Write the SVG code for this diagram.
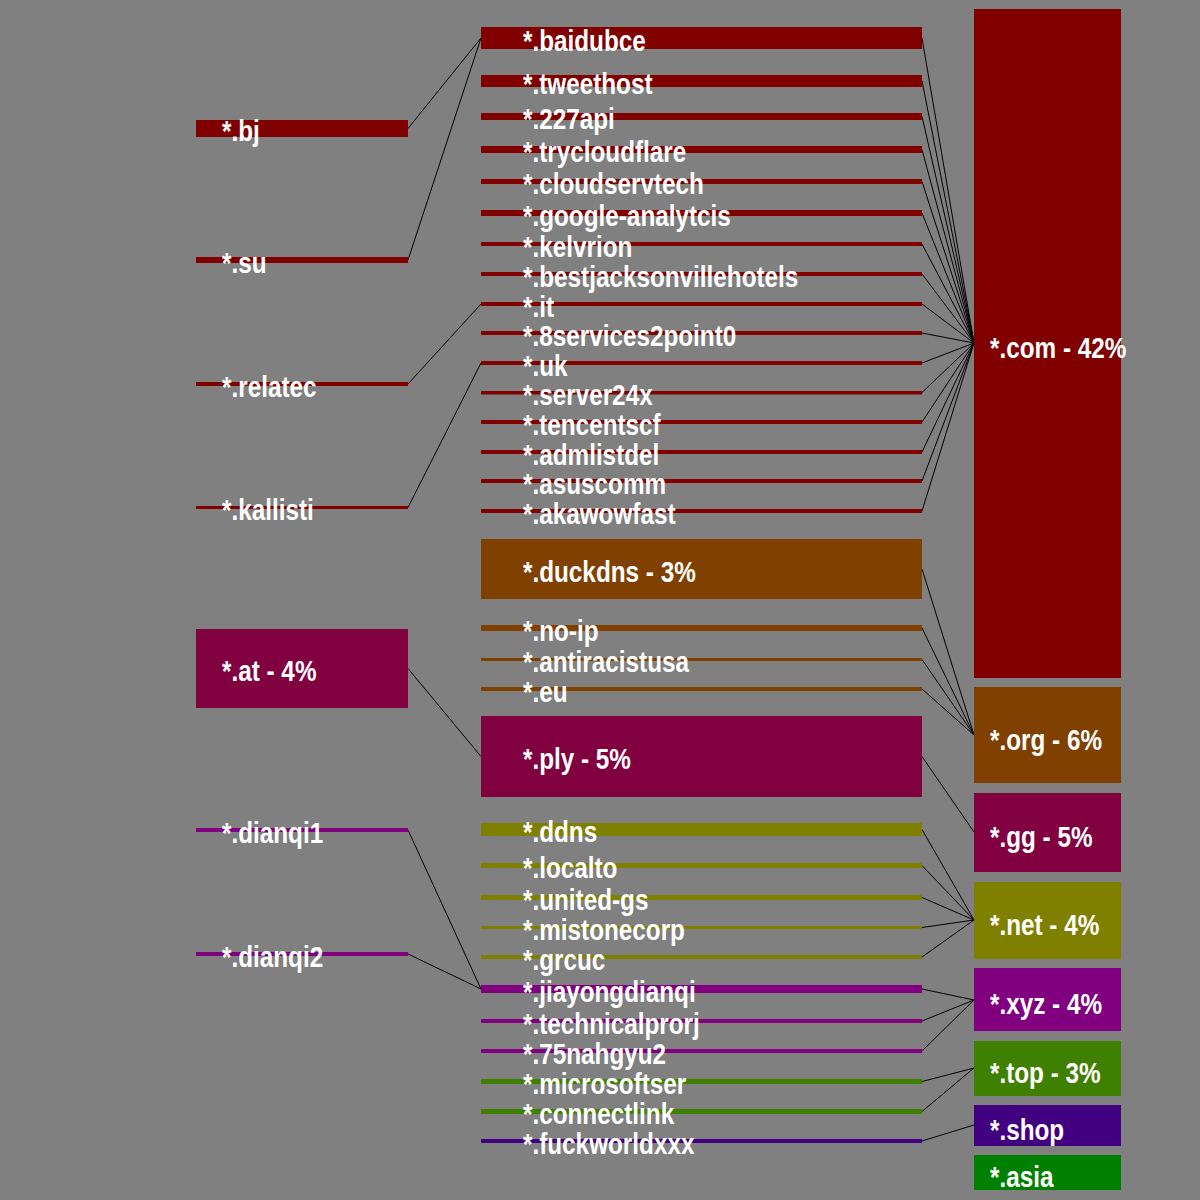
<svg xmlns="http://www.w3.org/2000/svg" width="1200" height="1200" viewBox="0 0 1200 1200">
<style>
text{font-family:"Liberation Sans",Arial,sans-serif;font-weight:bold;font-size:30px;fill:#ffffff;}
.c line{stroke:#000;stroke-width:1;fill:none;}
.r1{fill:#800000}.r2{fill:#804000}.r3{fill:#800040}.r4{fill:#808000}.r5{fill:#800080}.r6{fill:#408000}.r7{fill:#400080}.r8{fill:#008000}
</style>
<rect width="1200" height="1200" fill="#808080"/>
<g class="c" id="connectors">
<line x1="408" y1="128.5" x2="481" y2="38"/>
<line x1="408" y1="260" x2="481" y2="38"/>
<line x1="408" y1="384" x2="481" y2="304"/>
<line x1="408" y1="507.5" x2="481" y2="363"/>
<line x1="408" y1="668.5" x2="481" y2="756.5"/>
<line x1="408" y1="830" x2="481" y2="989"/>
<line x1="408" y1="954" x2="481" y2="989"/>
<line x1="922" y1="38" x2="974" y2="343"/>
<line x1="922" y1="81" x2="974" y2="343"/>
<line x1="922" y1="116.5" x2="974" y2="343"/>
<line x1="922" y1="149.5" x2="974" y2="343"/>
<line x1="922" y1="181.5" x2="974" y2="343"/>
<line x1="922" y1="213" x2="974" y2="343"/>
<line x1="922" y1="244" x2="974" y2="343"/>
<line x1="922" y1="274" x2="974" y2="343"/>
<line x1="922" y1="304" x2="974" y2="343"/>
<line x1="922" y1="333" x2="974" y2="343"/>
<line x1="922" y1="363" x2="974" y2="343"/>
<line x1="922" y1="392.5" x2="974" y2="343"/>
<line x1="922" y1="422" x2="974" y2="343"/>
<line x1="922" y1="452" x2="974" y2="343"/>
<line x1="922" y1="481" x2="974" y2="343"/>
<line x1="922" y1="511" x2="974" y2="343"/>
<line x1="922" y1="569" x2="974" y2="735"/>
<line x1="922" y1="628" x2="974" y2="735"/>
<line x1="922" y1="659.5" x2="974" y2="735"/>
<line x1="922" y1="689" x2="974" y2="735"/>
<line x1="922" y1="756.5" x2="974" y2="832"/>
<line x1="922" y1="829.5" x2="974" y2="920"/>
<line x1="922" y1="865.5" x2="974" y2="920"/>
<line x1="922" y1="897.5" x2="974" y2="920"/>
<line x1="922" y1="927.5" x2="974" y2="920"/>
<line x1="922" y1="957" x2="974" y2="920"/>
<line x1="922" y1="989" x2="974" y2="1000"/>
<line x1="922" y1="1021" x2="974" y2="1000"/>
<line x1="922" y1="1051" x2="974" y2="1000"/>
<line x1="922" y1="1081.5" x2="974" y2="1068"/>
<line x1="922" y1="1111.5" x2="974" y2="1068"/>
<line x1="922" y1="1141" x2="974" y2="1125"/>
</g>
<g id="n-bj"><rect class="r1" x="196" y="120" width="212" height="17"/><text transform="translate(222 141) scale(0.81 1)">*.bj</text></g>
<g id="n-su"><rect class="r1" x="196" y="257" width="212" height="6"/><text transform="translate(222 272.5) scale(0.81 1)">*.su</text></g>
<g id="n-relatec"><rect class="r1" x="196" y="382" width="212" height="4"/><text transform="translate(222 396.5) scale(0.81 1)">*.relatec</text></g>
<g id="n-kallisti"><rect class="r1" x="196" y="506" width="212" height="3"/><text transform="translate(222 520) scale(0.81 1)">*.kallisti</text></g>
<g id="n-at"><rect class="r3" x="196" y="629" width="212" height="79"/><text transform="translate(222 681) scale(0.81 1)">*.at - 4%</text></g>
<g id="n-dianqi1"><rect class="r5" x="196" y="828" width="212" height="4"/><text transform="translate(222 842.5) scale(0.81 1)">*.dianqi1</text></g>
<g id="n-dianqi2"><rect class="r5" x="196" y="952" width="212" height="4"/><text transform="translate(222 966.5) scale(0.81 1)">*.dianqi2</text></g>
<g id="n-baidubce"><rect class="r1" x="481" y="27" width="441" height="22"/><text transform="translate(523 50.5) scale(0.81 1)">*.baidubce</text></g>
<g id="n-tweethost"><rect class="r1" x="481" y="75" width="441" height="12"/><text transform="translate(523 93.5) scale(0.81 1)">*.tweethost</text></g>
<g id="n-227api"><rect class="r1" x="481" y="113" width="441" height="7"/><text transform="translate(523 129) scale(0.81 1)">*.227api</text></g>
<g id="n-trycloudflare"><rect class="r1" x="481" y="146" width="441" height="7"/><text transform="translate(523 162) scale(0.81 1)">*.trycloudflare</text></g>
<g id="n-cloudservtech"><rect class="r1" x="481" y="179" width="441" height="5"/><text transform="translate(523 194) scale(0.81 1)">*.cloudservtech</text></g>
<g id="n-google-analytcis"><rect class="r1" x="481" y="210" width="441" height="6"/><text transform="translate(523 225.5) scale(0.81 1)">*.google-analytcis</text></g>
<g id="n-kelvrion"><rect class="r1" x="481" y="242" width="441" height="4"/><text transform="translate(523 256.5) scale(0.81 1)">*.kelvrion</text></g>
<g id="n-bestjacksonvillehotels"><rect class="r1" x="481" y="272" width="441" height="4"/><text transform="translate(523 286.5) scale(0.81 1)">*.bestjacksonvillehotels</text></g>
<g id="n-it"><rect class="r1" x="481" y="302" width="441" height="4"/><text transform="translate(523 316.5) scale(0.81 1)">*.it</text></g>
<g id="n-8services2point0"><rect class="r1" x="481" y="331" width="441" height="4"/><text transform="translate(523 345.5) scale(0.81 1)">*.8services2point0</text></g>
<g id="n-uk"><rect class="r1" x="481" y="361" width="441" height="4"/><text transform="translate(523 375.5) scale(0.81 1)">*.uk</text></g>
<g id="n-server24x"><rect class="r1" x="481" y="391" width="441" height="3.5"/><text transform="translate(523 405) scale(0.81 1)">*.server24x</text></g>
<g id="n-tencentscf"><rect class="r1" x="481" y="420" width="441" height="4"/><text transform="translate(523 434.5) scale(0.81 1)">*.tencentscf</text></g>
<g id="n-admlistdel"><rect class="r1" x="481" y="450" width="441" height="4"/><text transform="translate(523 464.5) scale(0.81 1)">*.admlistdel</text></g>
<g id="n-asuscomm"><rect class="r1" x="481" y="479" width="441" height="4"/><text transform="translate(523 493.5) scale(0.81 1)">*.asuscomm</text></g>
<g id="n-akawowfast"><rect class="r1" x="481" y="509" width="441" height="4"/><text transform="translate(523 523.5) scale(0.81 1)">*.akawowfast</text></g>
<g id="n-duckdns"><rect class="r2" x="481" y="539" width="441" height="60"/><text transform="translate(523 581.5) scale(0.81 1)">*.duckdns - 3%</text></g>
<g id="n-no-ip"><rect class="r2" x="481" y="625" width="441" height="6"/><text transform="translate(523 640.5) scale(0.81 1)">*.no-ip</text></g>
<g id="n-antiracistusa"><rect class="r2" x="481" y="658" width="441" height="3"/><text transform="translate(523 672) scale(0.81 1)">*.antiracistusa</text></g>
<g id="n-eu"><rect class="r2" x="481" y="687" width="441" height="4"/><text transform="translate(523 701.5) scale(0.81 1)">*.eu</text></g>
<g id="n-ply"><rect class="r3" x="481" y="716" width="441" height="81"/><text transform="translate(523 769) scale(0.81 1)">*.ply - 5%</text></g>
<g id="n-ddns"><rect class="r4" x="481" y="823" width="441" height="13"/><text transform="translate(523 842) scale(0.81 1)">*.ddns</text></g>
<g id="n-localto"><rect class="r4" x="481" y="863" width="441" height="5"/><text transform="translate(523 878) scale(0.81 1)">*.localto</text></g>
<g id="n-united-gs"><rect class="r4" x="481" y="895" width="441" height="5"/><text transform="translate(523 910) scale(0.81 1)">*.united-gs</text></g>
<g id="n-mistonecorp"><rect class="r4" x="481" y="926" width="441" height="3"/><text transform="translate(523 940) scale(0.81 1)">*.mistonecorp</text></g>
<g id="n-grcuc"><rect class="r4" x="481" y="955" width="441" height="4"/><text transform="translate(523 969.5) scale(0.81 1)">*.grcuc</text></g>
<g id="n-jiayongdianqi"><rect class="r5" x="481" y="985" width="441" height="8"/><text transform="translate(523 1001.5) scale(0.81 1)">*.jiayongdianqi</text></g>
<g id="n-technicalprorj"><rect class="r5" x="481" y="1019" width="441" height="4"/><text transform="translate(523 1033.5) scale(0.81 1)">*.technicalprorj</text></g>
<g id="n-75nahgyu2"><rect class="r5" x="481" y="1049" width="441" height="4"/><text transform="translate(523 1063.5) scale(0.81 1)">*.75nahgyu2</text></g>
<g id="n-microsoftser"><rect class="r6" x="481" y="1079" width="441" height="5"/><text transform="translate(523 1094) scale(0.81 1)">*.microsoftser</text></g>
<g id="n-connectlink"><rect class="r6" x="481" y="1109" width="441" height="5"/><text transform="translate(523 1124) scale(0.81 1)">*.connectlink</text></g>
<g id="n-fuckworldxxx"><rect class="r7" x="481" y="1139" width="441" height="4"/><text transform="translate(523 1153.5) scale(0.81 1)">*.fuckworldxxx</text></g>
<g id="n-com"><rect class="r1" x="974" y="9" width="147" height="669"/><text transform="translate(990 357.5) scale(0.81 1)">*.com - 42%</text></g>
<g id="n-org"><rect class="r2" x="974" y="687" width="147" height="96"/><text transform="translate(990 749.5) scale(0.81 1)">*.org - 6%</text></g>
<g id="n-gg"><rect class="r3" x="974" y="793" width="147" height="79"/><text transform="translate(990 846.5) scale(0.81 1)">*.gg - 5%</text></g>
<g id="n-net"><rect class="r4" x="974" y="882" width="147" height="77"/><text transform="translate(990 934.5) scale(0.81 1)">*.net - 4%</text></g>
<g id="n-xyz"><rect class="r5" x="974" y="968" width="147" height="63"/><text transform="translate(990 1013.5) scale(0.81 1)">*.xyz - 4%</text></g>
<g id="n-top"><rect class="r6" x="974" y="1041" width="147" height="55"/><text transform="translate(990 1082.5) scale(0.81 1)">*.top - 3%</text></g>
<g id="n-shop"><rect class="r7" x="974" y="1105" width="147" height="41"/><text transform="translate(990 1139.5) scale(0.81 1)">*.shop</text></g>
<g id="n-asia"><rect class="r8" x="974" y="1155" width="147" height="35"/><text transform="translate(990 1186.5) scale(0.81 1)">*.asia</text></g>
</svg>
